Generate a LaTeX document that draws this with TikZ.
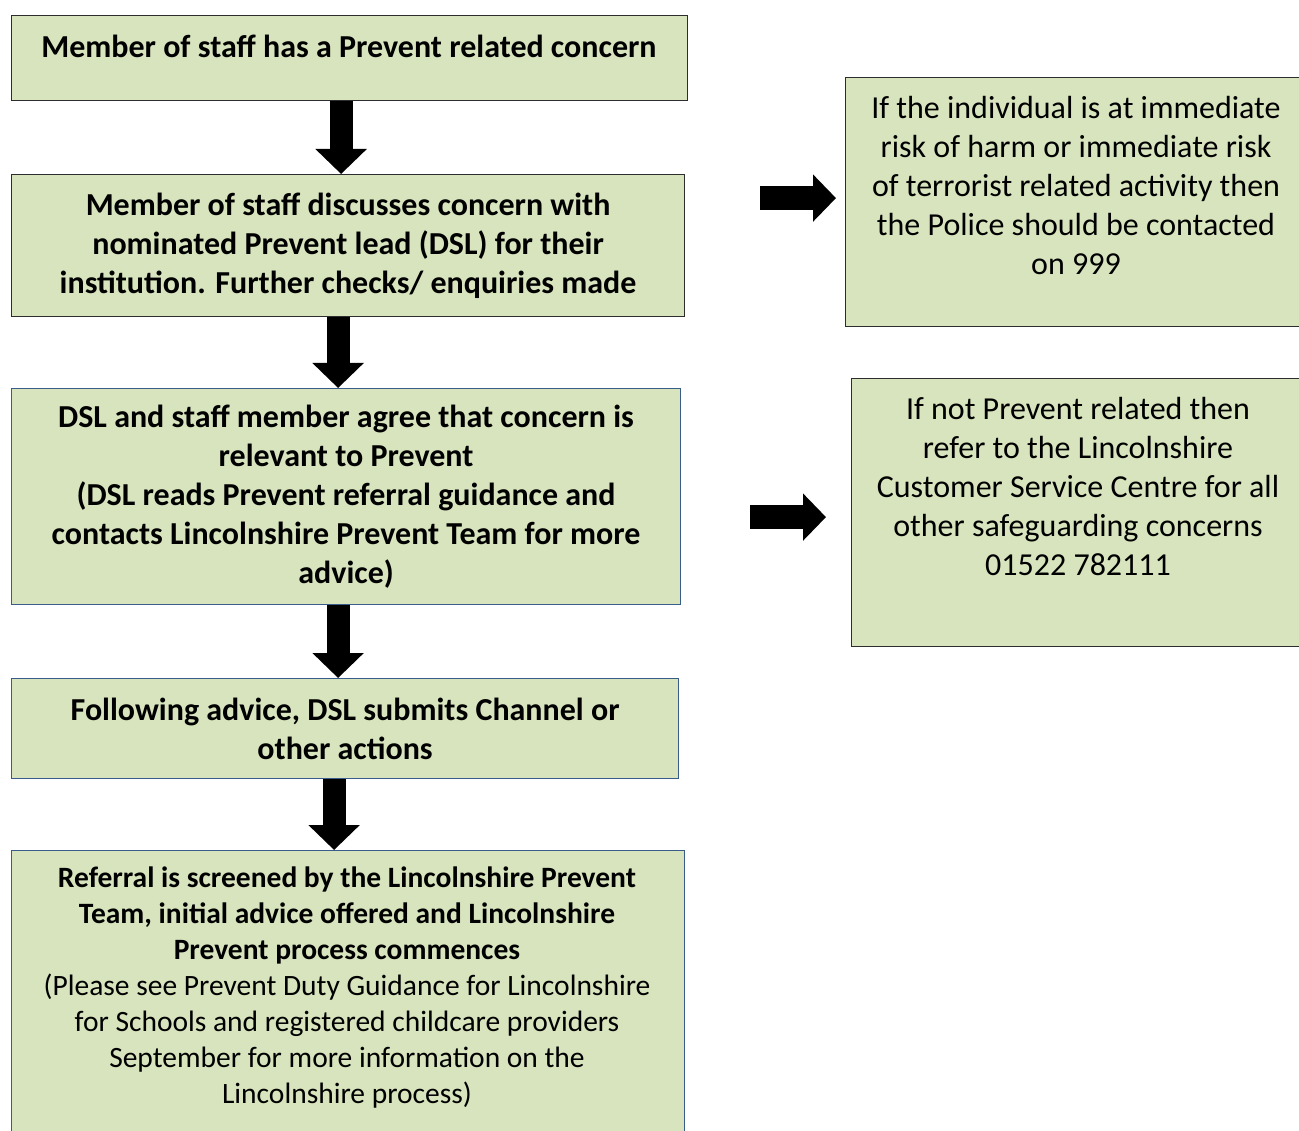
\documentclass[tikz,border=0pt]{standalone}
\usepackage{fontspec}
\setmainfont{Carlito}
\usepackage{tikz}
\usetikzlibrary{arrows.meta, positioning}
\definecolor{boxgreen}{RGB}{215,228,189}
\definecolor{boxgray}{RGB}{45,45,45}
\definecolor{boxblue}{RGB}{56,93,138}
\tikzstyle{stepbox} = [rectangle, anchor=north west, inner sep=0pt, line width=1.2pt, draw=boxgray, fill=boxgreen]
\tikzstyle{bluebox} = [stepbox, draw=boxblue]
\tikzstyle{steptext} = [align=center, inner sep=0pt, font=\bfseries\fontsize{32}{39}\selectfont]
\tikzstyle{notetext} = [align=center, inner sep=0pt, font=\fontsize{32}{39}\selectfont]
\tikzstyle{downarrow} = [line width=23pt, -{Triangle[width=50pt,length=25pt]}]
\tikzstyle{rightarrow} = [line width=24pt, -{Triangle[width=46pt,length=23pt]}]

\begin{document}
\begin{tikzpicture}[x=1pt, y=-1pt]
    \useasboundingbox (0,0) rectangle (1299,1131);

    % Concern raised
    \node (b1) [stepbox, minimum width=676pt, minimum height=85pt] at (11,15) {};
    \node (b1text) [steptext, anchor=north] at (349,35) {Member of staff has a Prevent related concern};

    % Discussion with DSL
    \node (b2) [stepbox, steptext, minimum width=673pt, minimum height=142pt] at (11,174) {
        Member of staff discusses concern with\\
        nominated Prevent lead (DSL) for their\\
        institution. Further checks/ enquiries made};

    % Agreed as relevant
    \node (b3) [bluebox, steptext, minimum width=669pt, minimum height=216pt] at (11,388) {
        DSL and staff member agree that concern is\\
        relevant to Prevent\\
        (DSL reads Prevent referral guidance and\\
        contacts Lincolnshire Prevent Team for more\\
        advice)};

    % Channel or other actions
    \node (b4) [bluebox, steptext, minimum width=667pt, minimum height=100pt] at (11,678) {
        Following advice, DSL submits Channel or\\
        other actions};

    % Screening of the referral
    \node (b5) [bluebox, minimum width=673pt, minimum height=290pt] at (11,850) {};
    \node (b5text) [notetext, anchor=north, font=\fontsize{29.5}{36}\selectfont] at (347,867) {
        \textbf{Referral is screened by the Lincolnshire Prevent}\\
        \textbf{Team, initial advice offered and Lincolnshire}\\
        \textbf{Prevent process commences}\\
        (Please see Prevent Duty Guidance for Lincolnshire\\
        for Schools and registered childcare providers\\
        September for more information on the\\
        Lincolnshire process)};

    % Side notes
    \node (r1) [stepbox, minimum width=460pt, minimum height=249pt] at (845,77) {};
    \node (r1text) [notetext, anchor=north] at (1076,96) {
        If the individual is at immediate\\
        risk of harm or immediate risk\\
        of terrorist related activity then\\
        the Police should be contacted\\
        on 999};

    \node (r2) [stepbox, minimum width=460pt, minimum height=268pt] at (851,378) {};
    \node (r2text) [notetext, anchor=north] at (1078,397) {
        If not Prevent related then\\
        refer to the Lincolnshire\\
        Customer Service Centre for all\\
        other safeguarding concerns\\
        01522 782111};

    % Flow
    \draw [downarrow] ([xshift=-8.5pt]b1.south) -- ([xshift=-8.5pt]b1.south |- b2.north);
    \draw [downarrow] ([xshift=-10pt]b2.south) -- ([xshift=-10pt]b2.south |- b3.north);
    \draw [downarrow] ([xshift=-8pt]b3.south) -- ([xshift=-8pt]b3.south |- b4.north);
    \draw [downarrow] ([xshift=-11pt]b4.south) -- ([xshift=-11pt]b4.south |- b5.north);
    \draw [rightarrow] ([xshift=-85pt, yshift=4pt]r1.west) -- ([xshift=-9pt, yshift=4pt]r1.west);
    \draw [rightarrow] ([xshift=-101pt, yshift=-4.5pt]r2.west) -- ([xshift=-25pt, yshift=-4.5pt]r2.west);
\end{tikzpicture}
\end{document}
